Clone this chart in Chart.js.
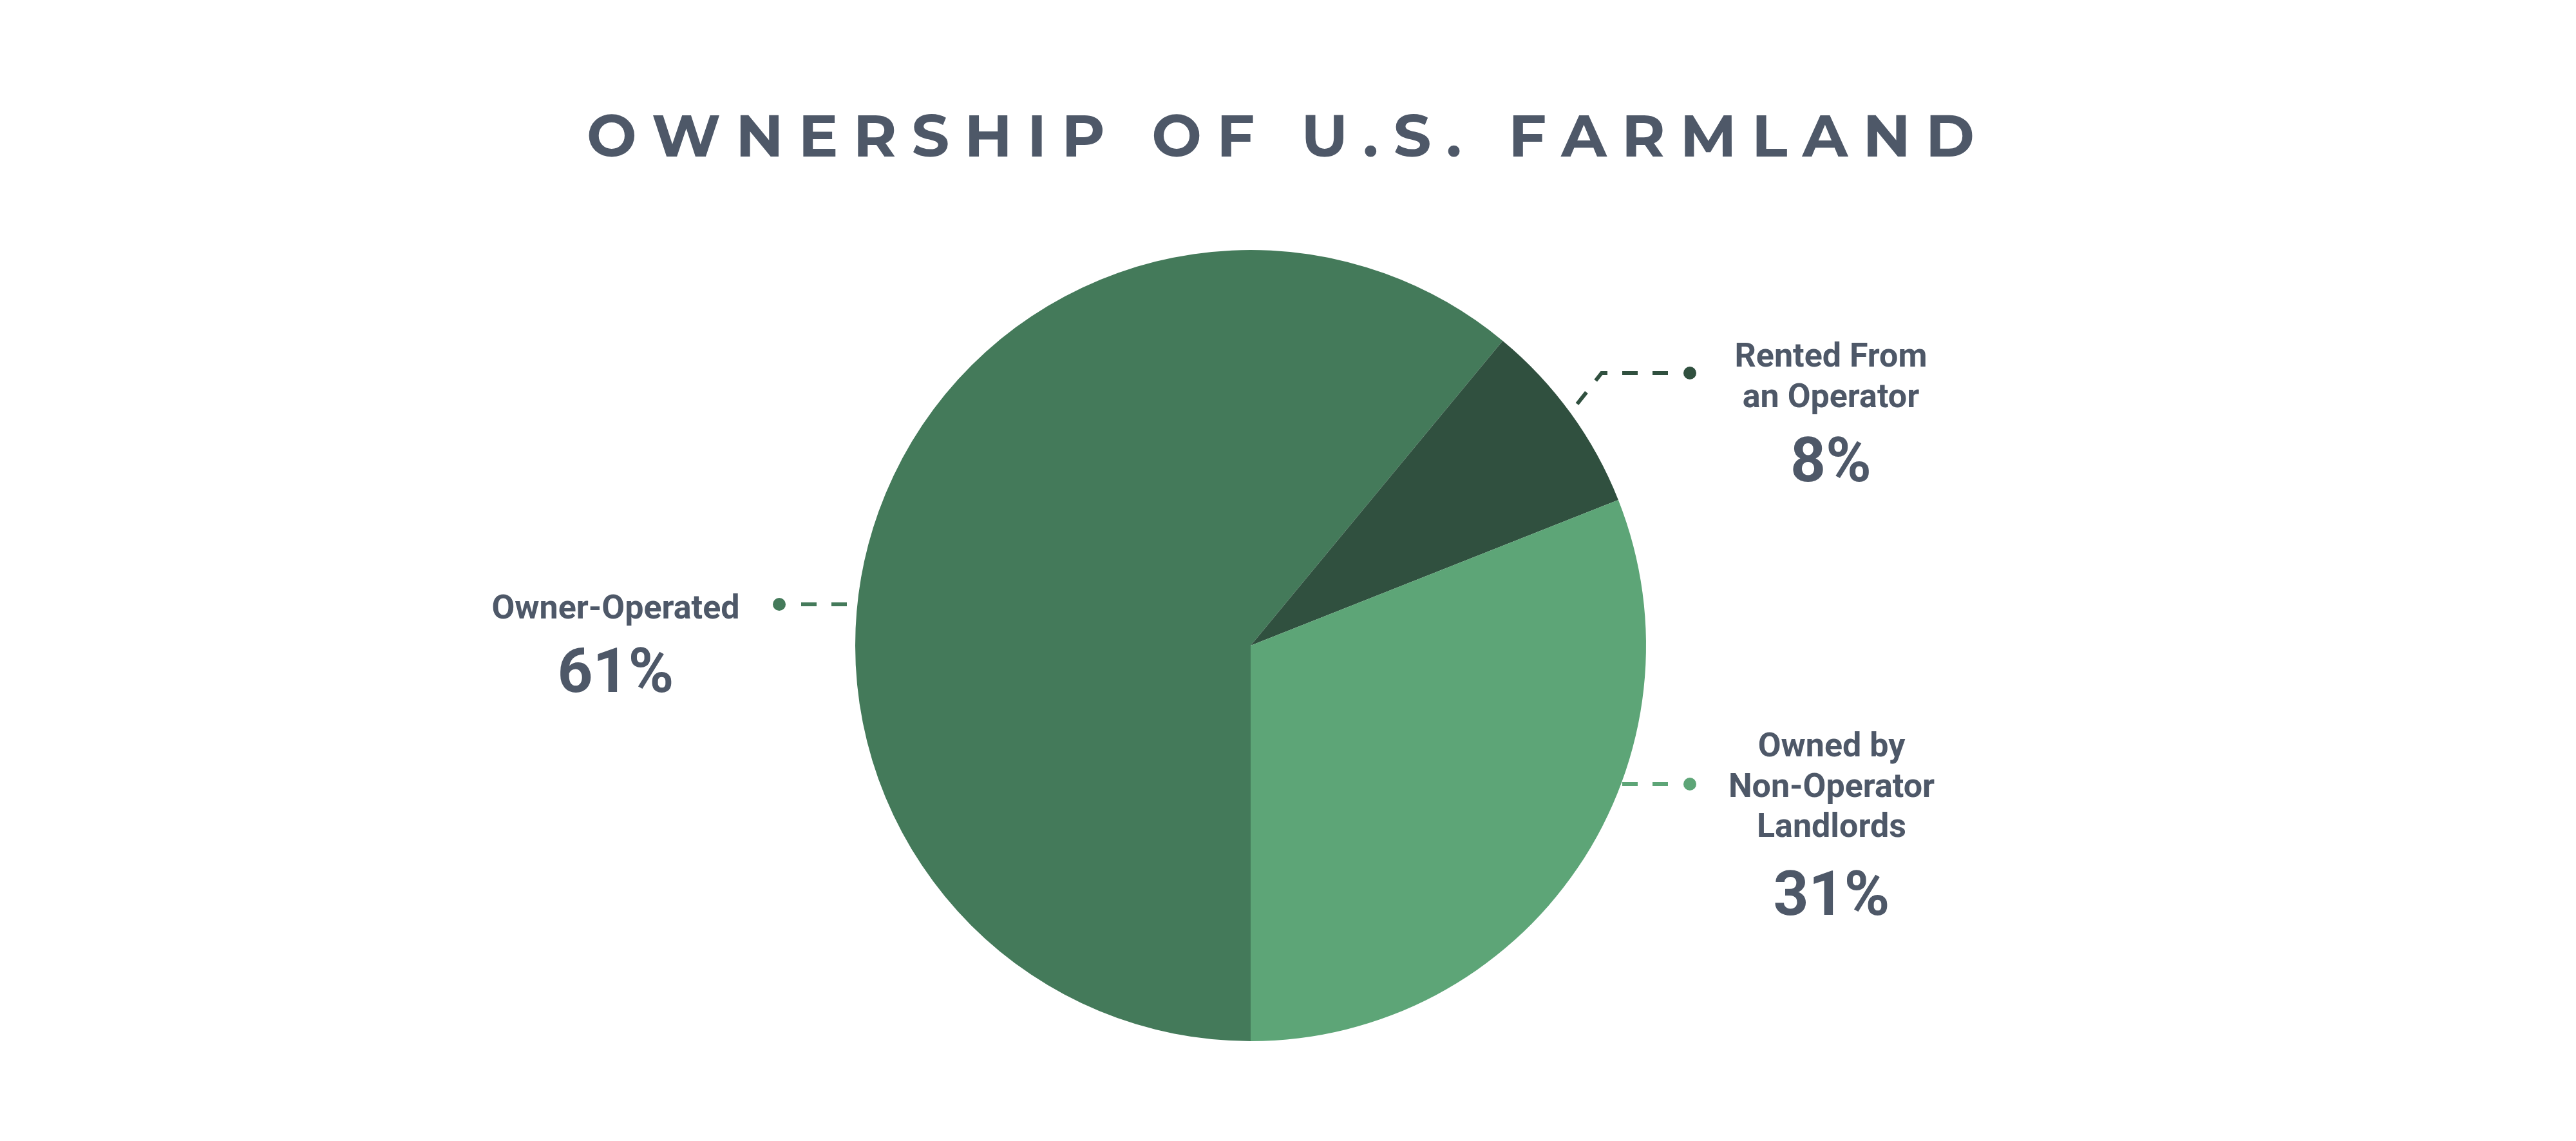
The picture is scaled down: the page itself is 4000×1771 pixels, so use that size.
<!DOCTYPE html>
<html>
<head>
<meta charset="utf-8">
<script src="https://cdn.jsdelivr.net/npm/chart.js@4.4.0/dist/chart.umd.min.js"></script>
<style>
  html, body { margin: 0; padding: 0; background: #ffffff; }
  canvas { display: block; }
</style>
</head>
<body>
<canvas id="pie" width="4000" height="1771"></canvas>
<script>
// data
const chartTitle = 'OWNERSHIP OF U.S. FARMLAND'
const categories = ['Owner-Operated', 'Rented From an Operator', 'Owned by Non-Operator Landlords']
const shares = [61, 8, 31]
const labelLines = [
    ['Owner-Operated'],
    ['Rented From', 'an Operator'],
    ['Owned by', 'Non-Operator', 'Landlords']
]
const sliceColors = ['#447a5a', '#30503f', '#5da577']

const textColor = '#4e5868'

// callout layout, offsets from the pie centre
const callouts = [
    { textX: -986, lines: [-42], pct: 72, dot: [-732, -64], edge: 'left' },
    { textX: 901, lines: [-433, -370], pct: -255, dot: [682, -423], elbow: [545, -423], end: [507, -375] },
    { textX: 902, lines: [172, 235, 297], pct: 418, dot: [682, 215], edge: 'right' }
]

const dashedLine = (ctx, pts, color) => {
    ctx.save()
    ctx.strokeStyle = color
    ctx.lineWidth = 6
    ctx.setLineDash([24, 23])
    ctx.beginPath()
    ctx.moveTo(pts[0][0], pts[0][1])
    pts.slice(1).forEach(p => ctx.lineTo(p[0], p[1]))
    ctx.stroke()
    ctx.restore()
}

const spacedTitle = (ctx, text, left, right, y) => {
    ctx.save()
    ctx.font = '700 92px Montserrat, "Open Sans", Lato, sans-serif'
    ctx.fillStyle = textColor
    ctx.textAlign = 'left'
    ctx.textBaseline = 'alphabetic'
    const widths = [...text].map(c => ctx.measureText(c).width)
    const total = widths.reduce((a, b) => a + b, 0)
    const gap = (right - left - total) / (text.length - 1)
    let x = left
    ;[...text].forEach((c, i) => {
        ctx.fillText(c, x, y)
        x += widths[i] + gap
    })
    ctx.restore()
}

const calloutPlugin = {
    id: 'callouts',
    afterDraw(chart) {
        const ctx = chart.ctx
        const meta = chart.getDatasetMeta(0)
        const { x: cx, y: cy, outerRadius: r } = meta.data[0].getProps(['x', 'y', 'outerRadius'], true)

        spacedTitle(ctx, chartTitle, 911, 3066, 243)

        callouts.forEach((c, i) => {
            const color = sliceColors[i]
            const dx = cx + c.dot[0]
            const dy = cy + c.dot[1]
            let pts
            if (c.edge === 'left') {
                const ex = cx - Math.sqrt(r * r - c.dot[1] * c.dot[1])
                pts = [[dx + 34, dy], [ex, dy]]
            } else if (c.edge === 'right') {
                const ex = cx + Math.sqrt(r * r - c.dot[1] * c.dot[1])
                pts = [[dx - 34, dy], [ex, dy]]
            } else {
                pts = [[dx - 34, dy], [cx + c.elbow[0], cy + c.elbow[1]], [cx + c.end[0], cy + c.end[1]]]
            }
            dashedLine(ctx, pts, color)

            ctx.save()
            ctx.fillStyle = color
            ctx.beginPath()
            ctx.arc(dx, dy, 10, 0, Math.PI * 2)
            ctx.fill()

            ctx.fillStyle = textColor
            ctx.textAlign = 'center'
            ctx.textBaseline = 'alphabetic'
            ctx.font = '700 52px Roboto, "Noto Sans", sans-serif'
            labelLines[i].forEach((line, j) => {
                ctx.fillText(line, cx + c.textX, cy + c.lines[j])
            })
            ctx.font = '700 96px Roboto, "Noto Sans", sans-serif'
            ctx.fillText(shares[i] + '%', cx + c.textX, cy + c.pct)
            ctx.restore()
        })
    }
}

const pieChart = new Chart(document.getElementById('pie').getContext('2d'), {
    type: 'pie',
    data: {
        labels: categories,
        datasets: [{
            data: shares,
            backgroundColor: sliceColors,
            borderWidth: 0
        }]
    },
    options: {
        responsive: false,
        devicePixelRatio: 1,
        animation: false,
        rotation: 180,
        layout: {
            padding: { top: 388, bottom: 155, left: 1328, right: 1444 }
        },
        plugins: {
            legend: { display: false },
            tooltip: { enabled: false },
            title: { display: false }
        }
    },
    plugins: [calloutPlugin]
})
</script>
</body>
</html>
